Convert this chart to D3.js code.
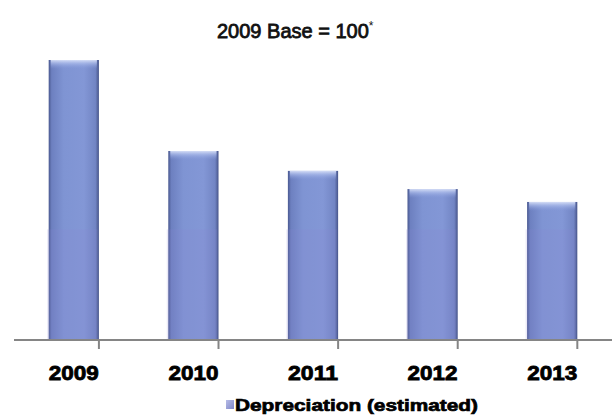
<!DOCTYPE html>
<html>
<head>
<meta charset="utf-8">
<script src="https://cdn.jsdelivr.net/npm/d3@7/dist/d3.min.js"></script>
<style>
  html, body { margin: 0; padding: 0; background: #ffffff; }
  svg { display: block; }
</style>
</head>
<body>
<svg id="chart" width="616" height="419"></svg>
<script>
// Depreciation index by year, 2009 = 100
const years = ["2009", "2010", "2011", "2012", "2013"];
const depreciation = [100, 67.5, 60.4, 53.9, 49.3];
const seriesName = "Depreciation (estimated)";
const chartTitle = "2009 Base = 100";

const W = 616, H = 419;
const margin = { left: 14, right: 4, top: 60, bottom: 79 };
const svg = d3.select("#chart");

const x = d3.scaleBand()
  .domain(years)
  .range([margin.left, W - margin.right])
  .paddingInner(0.58)
  .paddingOuter(0.29);

const y = d3.scaleLinear()
  .domain([0, 100])
  .range([H - margin.bottom, margin.top]);

// Gradients for the bar body
const defs = svg.append("defs");
const g1 = defs.append("linearGradient").attr("id", "barBody")
  .attr("x1", "0").attr("x2", "1").attr("y1", "0").attr("y2", "0");
[["0%", "#4a5990"], ["6%", "#6d80c0"], ["30%", "#7f94d3"], ["70%", "#8397d6"], ["93%", "#7285c4"], ["100%", "#47558a"]]
  .forEach(([o, c]) => g1.append("stop").attr("offset", o).attr("stop-color", c));
const g2 = defs.append("linearGradient").attr("id", "barTop")
  .attr("x1", "0").attr("x2", "0").attr("y1", "0").attr("y2", "1");
[["0%", "#dfe6fa", 0.9], ["40%", "#b3c2ee", 0.6], ["100%", "#8a9ede", 0]]
  .forEach(([o, c, a]) => g2.append("stop").attr("offset", o).attr("stop-color", c).attr("stop-opacity", a));
const g3 = defs.append("linearGradient").attr("id", "legendSwatch")
  .attr("x1", "0").attr("x2", "1").attr("y1", "0").attr("y2", "1");
[["0%", "#b7bce6"], ["100%", "#7f87c9"]]
  .forEach(([o, c]) => g3.append("stop").attr("offset", o).attr("stop-color", c));

const bars = svg.append("g").selectAll("g")
  .data(years.map((yr, i) => ({ yr, v: depreciation[i] })))
  .join("g");

bars.append("rect")
  .attr("x", d => x(d.yr))
  .attr("y", d => y(d.v))
  .attr("width", x.bandwidth())
  .attr("height", d => y(0) - y(d.v))
  .attr("fill", "url(#barBody)");

// slightly violet lower section of each bar
bars.append("rect")
  .attr("x", d => x(d.yr) - 1.5)
  .attr("y", y(39.5))
  .attr("width", x.bandwidth())
  .attr("height", y(0) - y(39.5))
  .attr("fill", "#8a86d0")
  .attr("opacity", 0.18);

// glossy cap at the top of each bar
bars.append("rect")
  .attr("x", d => x(d.yr) + 2)
  .attr("y", d => y(d.v))
  .attr("width", x.bandwidth() - 4)
  .attr("height", 9)
  .attr("fill", "url(#barTop)");

// Category axis with outward ticks at band boundaries
const axisY = y(0);
const axisG = svg.append("g");
axisG.append("line")
  .attr("x1", margin.left).attr("x2", W - margin.right)
  .attr("y1", axisY).attr("y2", axisY)
  .attr("stroke", "#858585").attr("stroke-width", 2);
const step = x.step();
const bounds = d3.range(years.length + 1).map(i => x(years[0]) - x.paddingOuter() * step - x.paddingInner() * step / 2 + i * step);
axisG.selectAll("line.tick")
  .data(bounds)
  .join("line")
  .attr("class", "tick")
  .attr("x1", d => d).attr("x2", d => d)
  .attr("y1", axisY).attr("y2", axisY + 9)
  .attr("stroke", "#858585").attr("stroke-width", 2);

axisG.selectAll("text")
  .data(years)
  .join("text")
  .attr("x", d => x(d) + x.bandwidth() / 2)
  .attr("y", axisY + 40)
  .attr("text-anchor", "middle")
  .attr("font-family", "Liberation Sans, Arial, sans-serif")
  .attr("font-weight", "bold")
  .attr("font-size", 20)
  .attr("stroke", "#000").attr("stroke-width", 0.8)
  .attr("fill", "#000")
  .attr("textLength", 50)
  .attr("lengthAdjust", "spacingAndGlyphs")
  .text(d => d);

// Title
const title = svg.append("text")
  .attr("x", 217).attr("y", 38)
  .attr("font-family", "Liberation Sans, Arial, sans-serif")
  .attr("font-size", 20)
  .attr("stroke", "#111").attr("stroke-width", 0.8)
  .attr("fill", "#111");
title.append("tspan").text(chartTitle);
title.append("tspan").attr("font-size", 12).attr("dy", -8).attr("stroke-width", 0).text("*");

// Legend
const legend = svg.append("g");
legend.append("rect")
  .attr("x", 226).attr("y", 400).attr("width", 8).attr("height", 9)
  .attr("fill", "url(#legendSwatch)");
legend.append("text")
  .attr("x", 235).attr("y", 411)
  .attr("font-family", "Liberation Sans, Arial, sans-serif")
  .attr("font-weight", "bold")
  .attr("font-size", 17)
  .attr("stroke", "#000").attr("stroke-width", 0.7)
  .attr("fill", "#000")
  .attr("textLength", 243)
  .attr("lengthAdjust", "spacingAndGlyphs")
  .text(seriesName);
</script>
</body>
</html>
